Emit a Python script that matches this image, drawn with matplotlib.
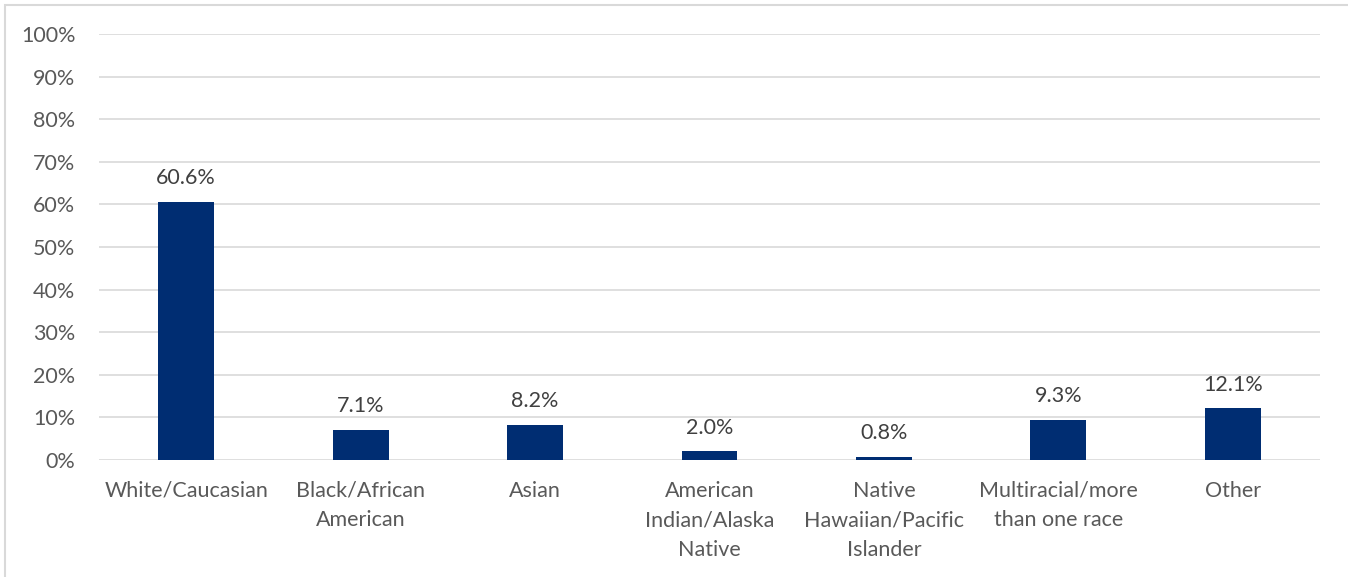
import matplotlib.pyplot as plt
from matplotlib.patches import Rectangle

categories = ["White/Caucasian", "Black/African\nAmerican", "Asian",
              "American\nIndian/Alaska\nNative", "Native\nHawaiian/Pacific\nIslander",
              "Multiracial/more\nthan one race", "Other"]
values = [60.6, 7.1, 8.2, 2.0, 0.8, 9.3, 12.1]
yticks = list(range(0, 101, 10))

plt.rcParams['font.family'] = ['Lato', 'DejaVu Sans']
W, H = 1348, 577
fig = plt.figure(figsize=(W / 100, H / 100), dpi=100)
ax = fig.add_axes([99 / W, 1 - 460 / H, (1320 - 99) / W, (460 - 34) / H])

x = range(len(categories))
ax.bar(x, values, width=0.32, color="#002D72", zorder=3)
for i, v in zip(x, values):
    ax.annotate(f"{v:.1f}%", (i, v), xytext=(0, 10), textcoords="offset points",
                ha="center", va="bottom", fontsize=15.5, color="#404040")

ax.set_xlim(-0.5, len(categories) - 0.5)
ax.set_ylim(0, 100)
ax.set_yticks(yticks)
ax.set_yticklabels([f"{t}%" for t in yticks])
ax.set_xticks(list(x))
ax.set_xticklabels(categories, linespacing=1.6)
ax.tick_params(axis="both", length=0, labelsize=15.5, colors="#595959")
ax.tick_params(axis="x", pad=15)
ax.tick_params(axis="y", pad=17)
ax.grid(axis="y", color="#D9D9D9", linewidth=1.2, zorder=0)
for s in ax.spines.values():
    s.set_visible(False)

fig.patches.append(Rectangle((5 / W, -0.1), 1.2, 1 - 5 / H + 0.1, transform=fig.transFigure,
                             fill=False, edgecolor="#D9D9D9", linewidth=1.5))

fig.savefig("out.png", dpi=100)
